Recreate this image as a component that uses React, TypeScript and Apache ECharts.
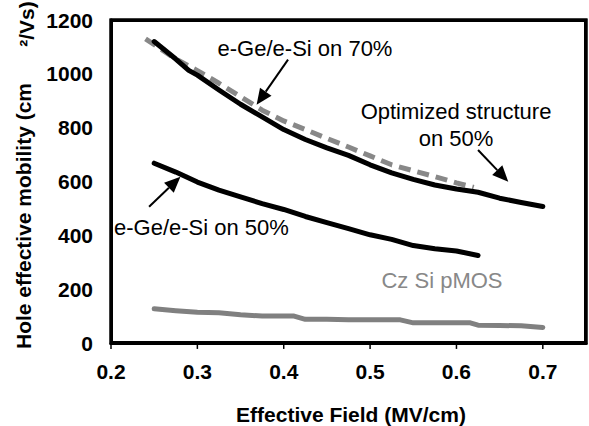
import React, { useEffect, useRef } from "react";
import * as echarts from "echarts";

const xTicks = [0.2, 0.3, 0.4, 0.5, 0.6, 0.7];
const yTicks = [0, 200, 400, 600, 800, 1000, 1200];
const xMin = 0.2;
const xMax = 0.75;
const yMin = 0;
const yMax = 1200;

const optimizedX = [0.25, 0.275, 0.29, 0.3, 0.325, 0.35, 0.375, 0.4, 0.425, 0.45, 0.475, 0.5, 0.525, 0.55, 0.575, 0.6, 0.625, 0.65, 0.675, 0.7];
const optimizedY = [1120, 1055, 1013, 995, 940, 887, 840, 793, 756, 725, 697, 662, 632, 608, 587, 572, 560, 538, 522, 507];

const ge70X = [0.24, 0.275, 0.3, 0.325, 0.35, 0.375, 0.4, 0.425, 0.45, 0.475, 0.5, 0.525, 0.55, 0.575, 0.6, 0.62];
const ge70Y = [1130, 1055, 1012, 965, 915, 865, 825, 793, 760, 728, 695, 662, 640, 618, 595, 578];

const ge50X = [0.25, 0.275, 0.3, 0.325, 0.35, 0.375, 0.4, 0.425, 0.45, 0.475, 0.5, 0.525, 0.55, 0.575, 0.6, 0.625];
const ge50Y = [668, 635, 598, 568, 543, 518, 496, 470, 447, 425, 402, 385, 362, 350, 342, 325];

const czX = [0.25, 0.275, 0.3, 0.325, 0.35, 0.375, 0.412, 0.425, 0.45, 0.475, 0.5, 0.535, 0.55, 0.575, 0.6, 0.616, 0.625, 0.65, 0.675, 0.7];
const czY = [127, 120, 114, 112, 105, 100, 100, 88, 88, 86, 86, 86, 75, 75, 75, 75, 66, 65, 64, 58];

// annotation arrows: tail and tip in data coordinates
const arrowTails = [[0.405, 1053], [0.625, 717], [0.2441, 506]];
const arrowTips = [[0.3686, 885], [0.66, 599], [0.2804, 618]];

const zip = (xs: number[], ys: number[]) => xs.map((x, i) => [x, ys[i]]);

const FONT = "'Liberation Sans', Arial, sans-serif";

export default function App() {
  const ref = useRef<HTMLDivElement>(null);
  useEffect(() => {
    if (!ref.current) return;
    const chart = echarts.init(ref.current, null, { renderer: "svg" });
    const txt = (x: number, y: number, text: string, extra: any = {}) => {
      const style: any = {
        text,
        font: extra.font || `22px ${FONT}`,
        fill: extra.fill || "#000",
        align: extra.align || "center",
        verticalAlign: "middle",
      };
      if (extra.lineHeight) style.lineHeight = extra.lineHeight;
      return { type: "text", x, y, rotation: extra.rotation || 0, silent: true, style };
    };

    // frame outline along the axis extents, drawn as a series in data space
    const frameSeries = {
      name: "frame",
      type: "line",
      clip: false,
      silent: true,
      z: 5,
      symbol: "none",
      data: [[xMin, yMin], [xMin, yMax], [xMax, yMax], [xMax, yMin], [xMin, yMin]],
      lineStyle: { color: "#000", width: 3, join: "miter", cap: "square" },
    };
    // tick marks as tiny series segments just outside the frame
    const xTickLen = 22; // ~6px in y units
    const yTickLen = 0.0069; // ~6px in x units
    const tickSeries = [
      ...xTicks.map((v) => ({
        type: "line", clip: false, silent: true, z: 5, symbol: "none",
        data: [[v, yMin], [v, yMin - xTickLen]],
        lineStyle: { color: "#000", width: 1.5 },
      })),
      ...yTicks.map((v) => ({
        type: "line", clip: false, silent: true, z: 5, symbol: "none",
        data: [[xMin, v], [xMin - yTickLen, v]],
        lineStyle: { color: "#000", width: 1.5 },
      })),
    ];

    chart.setOption({
      animation: false,
      grid: {
        left: 111,
        top: 20,
        right: 1,
        bottom: 83,
        show: true,
        borderColor: "#000",
        borderWidth: 3,
      },
      xAxis: {
        type: "value",
        min: xMin,
        max: xMax,
        interval: 0.1,
        splitLine: { show: false },
        axisLine: { show: true, onZero: false, lineStyle: { color: "#000", width: 3 } },
        axisTick: { show: false },
        axisLabel: {
          color: "#000",
          fontSize: 21,
          fontWeight: "bold",
          fontFamily: FONT,
          margin: 18,
          formatter: (v: number) => {
            const t = xTicks.find((k) => Math.abs(k - v) < 1e-6);
            return t === undefined ? "" : t.toFixed(1);
          },
        },
      },
      yAxis: {
        type: "value",
        min: yMin,
        max: yMax,
        interval: 200,
        splitLine: { show: false },
        axisLine: { show: true, lineStyle: { color: "#000", width: 3 } },
        axisTick: { show: false },
        axisLabel: {
          color: "#000",
          fontSize: 21,
          fontWeight: "bold",
          fontFamily: FONT,
          margin: 18,
          formatter: (v: number) => String(Math.round(v)),
        },
      },
      series: [
        {
          name: "e-Ge/e-Si on 70%",
          type: "line",
          clip: false,
          data: zip(ge70X, ge70Y),
          symbol: "none",
          lineStyle: { color: "#888", width: 5, type: [12, 7] },
        },
        {
          name: "Optimized structure on 50%",
          type: "line",
          clip: false,
          data: zip(optimizedX, optimizedY),
          symbol: "none",
          lineStyle: { color: "#000", width: 5, cap: "round", join: "round" },
        },
        {
          name: "e-Ge/e-Si on 50%",
          type: "line",
          clip: false,
          data: zip(ge50X, ge50Y),
          symbol: "none",
          lineStyle: { color: "#000", width: 5, cap: "round", join: "round" },
        },
        {
          name: "Cz Si pMOS",
          type: "line",
          clip: false,
          data: zip(czX, czY),
          symbol: "none",
          lineStyle: { color: "#808080", width: 5, cap: "round", join: "round" },
        },
        frameSeries,
        ...tickSeries,
      ],
    });

    const px = (x: number, y: number) => chart.convertToPixel({ gridIndex: 0 }, [x, y]) as number[];
    const g: any[] = [];
    const box = (x: number, y: number, w: number, h: number) => ({
      type: "rect",
      silent: true,
      z: 100,
      shape: { x, y, width: w, height: h },
      style: { fill: "#000" },
    });
    // inner frame bars (fully inside the plot area)
    const p0 = px(xMin, yMin);
    const p1 = px(xMax, yMax);
    const W = p1[0] - p0[0];
    const H = p0[1] - p1[1];
    g.push(box(p0[0], p1[1], 2, H));
    g.push(box(p1[0] - 2, p1[1], 2, H));
    g.push(box(p0[0], p1[1], W, 2));
    g.push(box(p0[0], p0[1] - 2, W, 2));
    // arrows
    arrowTails.forEach((tail, i) => {
      const a = px(tail[0], tail[1]);
      const b = px(arrowTips[i][0], arrowTips[i][1]);
      const dx = b[0] - a[0];
      const dy = b[1] - a[1];
      const len = Math.sqrt(dx * dx + dy * dy);
      const ux = dx / len;
      const uy = dy / len;
      const headLen = 16;
      const halfW = 7;
      const bx = b[0] - ux * headLen;
      const by = b[1] - uy * headLen;
      g.push({ type: "line", silent: true, shape: { x1: a[0], y1: a[1], x2: bx, y2: by }, style: { stroke: "#000", lineWidth: 2 } });
      g.push({
        type: "polygon",
        silent: true,
        shape: { points: [[b[0], b[1]], [bx - uy * halfW, by + ux * halfW], [bx + uy * halfW, by - ux * halfW]] },
        style: { fill: "#000" },
      });
    });
    // texts
    g.push(txt(305, 48, "e-Ge/e-Si on 70%"));
    g.push(txt(456, 125, "Optimized structure\non 50%", { lineHeight: 27 }));
    g.push(txt(114, 227, "e-Ge/e-Si on 50%", { align: "left" }));
    g.push(txt(442, 280, "Cz Si pMOS", { fill: "#888" }));
    g.push(txt(351, 414, "Effective Field (MV/cm)", { font: `bold 21px ${FONT}` }));
    g.push(txt(23, 216, "Hole effective mobility (cm", { font: `bold 21px ${FONT}`, rotation: Math.PI / 2 }));
    g.push(txt(26, 24, "²/Vs)", { font: `bold 21px ${FONT}`, rotation: Math.PI / 2 }));
    chart.setOption({ graphic: g });
    return () => chart.dispose();
  }, []);
  return (
    <div
      ref={ref}
      style={{ position: "absolute", left: 0, top: 0, width: 589, height: 426, background: "#fff" }}
    />
  );
}
